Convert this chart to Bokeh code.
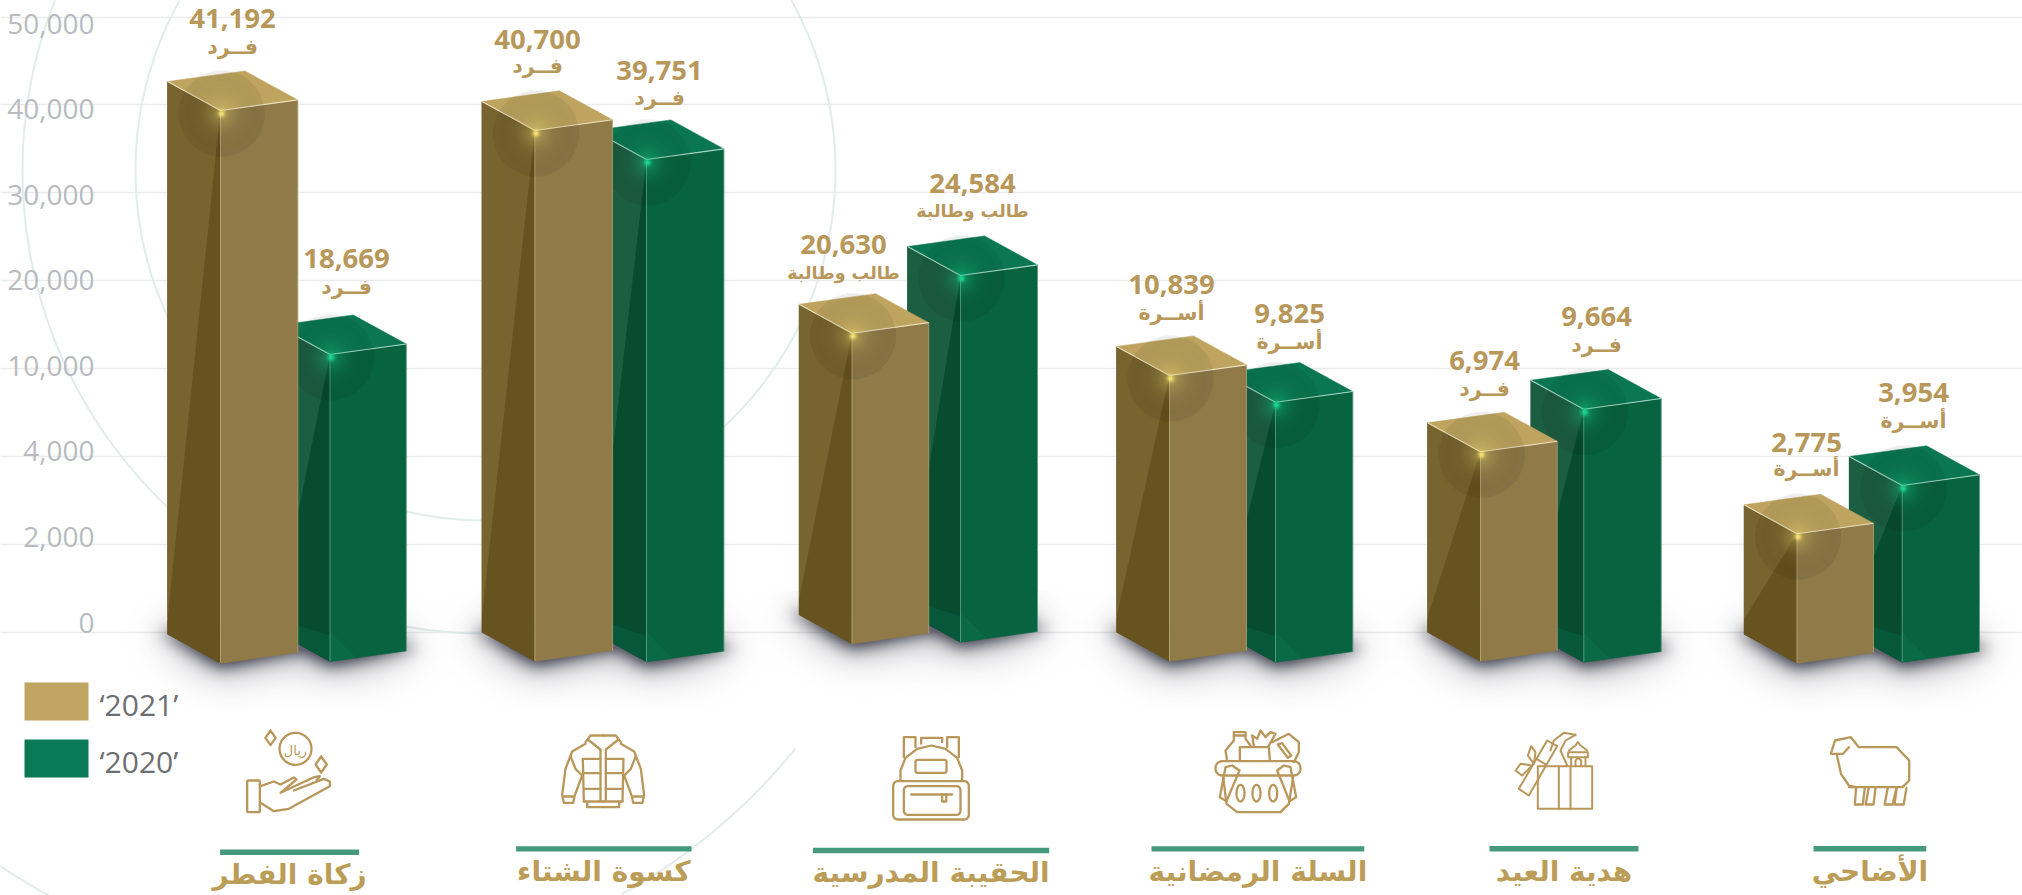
import numpy as np
from bokeh.plotting import figure
from bokeh.models import Range1d, LinearAxis, FixedTicker, Grid, ColumnDataSource
from bokeh.core.properties import value
from bokeh.embed import file_html
from bokeh.resources import INLINE

# ---------- data ----------
categories = ["زكاة الفطر", "كسوة الشتاء", "الحقيبة المدرسية", "السلة الرمضانية", "هدية العيد", "الأضاحي"]
values_2021 = [41192, 40700, 20630, 10839, 6974, 2775]
values_2020 = [18669, 39751, 24584, 9825, 9664, 3954]
units_2021 = ["فــرد", "فــرد", "طالب وطالبة", "أســرة", "فــرد", "أســرة"]
units_2020 = ["فــرد", "فــرد", "طالب وطالبة", "أســرة", "فــرد", "أســرة"]
tick_labels = ["0", "2,000", "4,000", "10,000", "20,000", "30,000", "40,000", "50,000"]
legend_labels = ["‘2021’", "‘2020’"]
# the boxes are pictorial: where each box's front corner stands against the printed axis (tick steps)
top_2021 = [5.936, 5.709, 3.401, 2.920, 2.051, 1.118]
top_2020 = [3.159, 5.378, 4.058, 2.616, 2.536, 1.668]
base_2021 = [-0.355, -0.332, -0.134, -0.332, -0.332, -0.355]
base_2020 = [-0.336, -0.339, -0.116, -0.344, -0.344, -0.344]

# ---------- layout ----------
W, H = 2022, 895
X0, Y0 = 0, 0
U = 87.85          # px per axis step
Z = 631.5          # page y of the zero line
def P(y):          # page y -> axis step
    return (Z - np.asarray(y, dtype=float)) / U

p = figure(width=W, height=H, output_backend="svg", toolbar_location=None,
           x_range=Range1d(X0, X0 + W), y_range=Range1d(float(P(Y0 + H)), float(P(Y0))),
           x_axis_location=None, y_axis_location=None, min_border=0, outline_line_color=None,
           background_fill_color="white", border_fill_color="white")
p.xgrid.visible = False
p.ygrid.visible = False

# grid lines on the true scale
grid = Grid(dimension=1, ticker=FixedTicker(ticks=list(range(8))), grid_line_color="#e9ebec",
            grid_line_width=1.6, bounds=(117, 2012))
p.add_layout(grid)

# printed tick labels sit on a slightly tighter spacing than the grid lines
LAB0, LABU = 622.0, 85.57
p.extra_y_ranges = {"labels": Range1d((LAB0 - (Y0 + H)) / LABU, (LAB0 - Y0) / LABU)}
ax = LinearAxis(y_range_name="labels", ticker=FixedTicker(ticks=list(range(8))),
                major_label_overrides={i: t for i, t in enumerate(tick_labels)},
                fixed_location=117, axis_line_color=None, major_tick_line_color=None,
                minor_tick_line_color=None, major_label_standoff=17,
                major_label_text_font="Open Sans", major_label_text_font_size="28px",
                major_label_text_color="#b9bbbf")
p.add_layout(ax, "left")

# background rings
def ring(cx, cy, r, a0, a1):
    a = np.radians(np.linspace(a0, a1, 240))
    return list(cx + r * np.cos(a)), list(P(cy + r * np.sin(a)))
rings = [ring(485, 170, 350, 0, 360), ring(485, 170, 463, 88, 240),
         ring(333.5, 374, 594, 39, 61), ring(333.5, 374, 594, 118, 126)]
p.multi_line([r[0] for r in rings], [r[1] for r in rings], line_color="#e2ecea", line_width=2)

# boxes' horizontal placing
front_2021 = [220, 534.4, 851.5, 1169, 1480, 1796.5]
right_2021 = [297.3, 612, 928.2, 1246, 1556.7, 1873]
front_2020 = [329.5, 646, 960, 1275, 1583.3, 1901.7]
right_2020 = [405.8, 723.4, 1037, 1352.3, 1660.7, 1979]
DX, DY = 53.0, 29.0 / U
SL = 10.6 / 77.0 / U

# soft floor shadow
sx0, sx1, sy0, sy1 = 90, 2022, 590, 710
gx, gy = np.meshgrid(np.arange(sx0, sx1) + .5, np.arange(sy1, sy0, -1) - .5)
mask = np.zeros(gx.shape)
def fill_poly(m, pts):
    inside = np.ones(m.shape, bool)
    n = len(pts)
    for i in range(n):
        (a, b), (c, d) = pts[i], pts[(i + 1) % n]
        inside &= (c - a) * (gy - b) - (d - b) * (gx - a) >= 0
    m[inside] = 1
for f, r, b in list(zip(front_2021, right_2021, base_2021)) + list(zip(front_2020, right_2020, base_2020)):
    yb = Z - b * U
    wd = r - f
    fill_poly(mask, [(f - DX - 10, yb - 29 - 2), (f + wd - DX, yb - 29 - 10), (r + 12, yb - 10.6 - 2), (f, yb + 6)])
def blur(m, s):
    n = int(3 * s)
    k = np.exp(-.5 * (np.arange(-n, n + 1) / s) ** 2)
    k /= k.sum()
    o = np.pad(m, n)
    o = np.apply_along_axis(lambda c: np.convolve(c, k, "same"), 0, o)
    o = np.apply_along_axis(lambda c: np.convolve(c, k, "same"), 1, o)
    return o[n:-n, n:-n]
alpha = np.clip(.8 * blur(mask, 8) + .6 * blur(mask, 22), 0, .85)
shadow = np.zeros(gx.shape + (4,), dtype=np.uint8)
shadow[..., 0], shadow[..., 1], shadow[..., 2] = 70, 70, 85
shadow[..., 3] = (alpha * 255).astype(np.uint8)
p.image_rgba(image=[shadow.view(np.uint32)[..., 0]], x=sx0, y=float(P(sy1)), dw=sx1 - sx0, dh=(sy1 - sy0) / U)

def glow_image(rgb, gain):
    R = 44
    g = np.arange(-R, R) + .5
    xx, yy = np.meshgrid(g, g)
    rr = np.hypot(xx, yy)
    gl = np.clip(gain * (.75 * np.exp(-(rr / 3.5) ** 2) + .30 * np.exp(-(rr / 15) ** 2)), 0, 1)
    disc = np.where(rr < 43, .07, 0.0)
    a = gl + disc * (1 - gl)
    out = np.zeros(rr.shape + (4,), dtype=np.uint8)
    for c in range(3):
        out[..., c] = np.clip(rgb[c] * gl / np.maximum(a, 1e-3), 0, 255)
    out[..., 3] = np.clip(a * 255, 0, 255)
    return out.view(np.uint32)[..., 0], 2 * R

GOLD = dict(top="#bea45f", front="#8f7a48", left="#66531f", wedge="#78642f", low="#8f7a48", lowl="#66531f",
            edge="#f3ead0", vert="#c9bb92", glow=(255, 236, 120), gain=.9)
GREEN = dict(top="#0a7752", front="#086340", left="#074c2f", wedge="#1c5e42", low="#0a6a45", lowl="#07583a",
             edge="#c4e8da", vert="#7fbca4", glow=(28, 214, 145), gain=1.0)

def box(f, r, t, b, st):
    l = f - DX
    w = r - f
    p.patches([[l, f, f, l]], [[t + DY, t, b, b + DY]], fill_color=st["left"], line_color=st["left"], line_width=.5)
    p.patches([[l, f, l]], [[t + DY, t, b + DY + 15 / U]], fill_color=st["wedge"], line_color=None)
    p.patches([[l, f, f, l]], [[b + DY + 14 / U, b + 26 / U, b, b + DY]], fill_color=st["lowl"], line_color=None)
    p.patches([[f, r, r, f]], [[t, t + w * SL, b + w * SL, b]], fill_color=st["front"], line_color=st["front"], line_width=.5)
    p.patches([[f, f + 26, f]], [[b + 30 / U, b + 3.4 / U, b]], fill_color=st["low"], line_color=None)
    p.patches([[l, f, r, l + w]], [[t + DY, t, t + w * SL, t + DY + w * SL]], fill_color=st["top"], line_color=st["top"], line_width=.5)
    p.multi_line([[l, f, r], [f, f], [r, r]], [[t + DY, t, t + w * SL], [t, b], [t + w * SL, b + w * SL]],
                 line_color=[st["edge"], st["vert"], st["vert"]], line_width=[1.1, 1, .8], line_alpha=[.85, .6, .6])
    img, size = glow_image(st["glow"], st["gain"])
    p.image_rgba(image=[img], x=f - size / 2 + 1, y=t - (3 + size / 2) / U, dw=size, dh=size / U)

for i in range(6):
    box(front_2020[i], right_2020[i], top_2020[i], base_2020[i], GREEN)
    box(front_2021[i], right_2021[i], top_2021[i], base_2021[i], GOLD)

# value and unit labels
TXT = "#b8975a"
num_x_2021 = [232, 537, 843, 1171, 1484, 1806]
num_y_2021 = [28, 49, 254, 294, 370, 451.7]
unit_y_2021 = [54, 73.3, 280, 320, 396, 476.7]
num_x_2020 = [346, 659, 972, 1289, 1596, 1913]
num_y_2020 = [268.3, 80, 193, 323, 326, 401.7]
unit_y_2020 = [294, 105, 218, 349, 352, 428]
src_n = ColumnDataSource(dict(x=num_x_2021 + num_x_2020, y=list(P(num_y_2021 + num_y_2020)),
                              t=[f"{v:,}" for v in values_2021 + values_2020]))
p.text("x", "y", text="t", source=src_n, text_font=value("Open Sans"), text_font_style="bold", y_offset=-10,
       text_font_size=value("27.5px"), text_color=TXT, text_align="center", text_baseline="alphabetic")
units = units_2021 + units_2020
src_u = ColumnDataSource(dict(x=num_x_2021 + num_x_2020, y=list(P(unit_y_2021 + unit_y_2020)), t=units,
                              fs=["17.5px" if " " in u else "20.5px" for u in units]))
p.text("x", "y", text="t", source=src_u, text_font=value("DejaVu Sans"), text_font_style="bold", text_font_size="fs",
       y_offset=-8, text_color=TXT, text_align="center", text_baseline="alphabetic")

# legend
swatch_x0, swatch_x1 = 24, 88
p.quad(left=[swatch_x0] * 2, right=[swatch_x1] * 2, bottom=list(P([720, 777])), top=list(P([682, 739])),
       fill_color=["#bfa561", "#0a7a56"], line_color=None)
p.text([99, 99], list(P([714, 771])), text=legend_labels, text_font=value("Open Sans"), text_font_size=value("30px"),
       y_offset=-10, text_color="#6d6e71", text_baseline="alphabetic")

# category rules and names
rule_l = [219.6, 515.6, 812.5, 1151, 1489, 1813]
rule_r = [358.5, 691, 1048.7, 1363.8, 1638, 1925.8]
rule_t = [849, 845.7, 847.3, 845.7, 845.5, 845.5]
name_y = [885, 882, 883, 881.7, 881.7, 881.7]
p.quad(left=rule_l, right=rule_r, top=list(P(rule_t)), bottom=list(P(np.array(rule_t) + 5.4)), fill_color="#459a7e", line_color=None)
p.text([(a + b) / 2 for a, b in zip(rule_l, rule_r)], list(P(name_y)), text=categories, text_font=value("DejaVu Sans"),
       text_font_style="bold", text_font_size=value("28px"), y_offset=-11, text_color="#bb9d58", text_align="center",
       text_baseline="alphabetic")

# line icons
def ellipse(cx, cy, rx, ry):
    a = np.linspace(0, 2 * np.pi, 40)
    return list(zip(cx + rx * np.cos(a), cy + ry * np.sin(a)))
def rrect(x0, y0, x1, y1, r):
    a = np.linspace(0, np.pi / 2, 6)
    pts = []
    for cx, cy, s in [(x1 - r, y0 + r, -np.pi / 2), (x1 - r, y1 - r, 0), (x0 + r, y1 - r, np.pi / 2), (x0 + r, y0 + r, np.pi)]:
        pts += list(zip(cx + r * np.cos(a + s), cy + r * np.sin(a + s)))
    return pts + [pts[0]]
def icon(paths, ox, oy, sx=1 / 3, sy=1 / 3, width=2.3):
    p.multi_line([[ox + a * sx for a, _ in q] for q in paths], [list(P([oy + b * sy for _, b in q])) for q in paths],
                 line_color="#b9975b", line_width=width, line_join="round", line_cap="round")
def spark(cx, cy, r):
    return [(cx, cy - r), (cx + r * .7, cy), (cx, cy + r), (cx - r * .7, cy), (cx, cy - r)]

# hand and coin
icon([ellipse(195, 100, 48, 48), spark(120, 67, 22), spark(272, 147, 24), rrect(50, 195, 88, 290, 3),
      [(90, 212), (130, 198), (150, 207), (190, 186), (198, 192), (150, 232), (250, 185), (268, 182), (258, 196)],
      [(190, 225), (280, 190), (298, 198), (298, 212), (175, 280), (130, 287), (90, 262)]], 230, 715)
p.text([295], [float(P(754))], text=["ريال"], text_font=value("DejaVu Sans"), text_font_size=value("13px"), y_offset=-4,
       text_color="#b9975b", text_align="center", text_baseline="alphabetic")
# jacket
half = [[(105, 55), (65, 78), (45, 130), (35, 208), (40, 232), (68, 232), (72, 212), (95, 150)], [(97, 100), (100, 228)],
        [(105, 50), (120, 30), (158, 30)], [(112, 42), (150, 72)], [(100, 100), (150, 100)], [(100, 143), (150, 143)],
        [(100, 190), (150, 190)], [(150, 75), (150, 226)], [(40, 213), (68, 213)], [(100, 228), (158, 228)],
        [(110, 232), (110, 245), (158, 245)], [(60, 92), (75, 130), (95, 150)]]
mirror = [[(316 - a, b) for a, b in q] for q in half]
icon(half + mirror, 550, 725)
# backpack
icon([[(122, 55), (122, 37), (185, 37), (185, 50)], [(70, 95), (70, 35), (105, 35), (105, 65)],
      [(200, 65), (200, 35), (235, 35), (235, 95)],
      [(60, 165), (60, 135), (75, 97), (110, 70), (153, 60), (195, 70), (230, 97), (245, 135), (245, 165)],
      rrect(38, 167, 265, 282, 14), rrect(70, 182, 240, 268, 12), rrect(105, 103, 198, 142, 6),
      [(92, 207), (215, 207)], [(185, 207), (185, 228), (197, 228), (197, 207)]], 880, 725)
# basket
icon([[(80, 120), (75, 90), (100, 60), (100, 35), (135, 35), (135, 55), (150, 75)],
      [(100, 45), (135, 45)], [(118, 120), (118, 80), (205, 80), (208, 118)],
      [(160, 75), (155, 45), (170, 55), (180, 30), (195, 50), (210, 35), (225, 40), (205, 75)],
      [(215, 65), (265, 40), (295, 65), (295, 95), (280, 125)],
      [(232, 72), (245, 68), (272, 105), (262, 112), (232, 72)], rrect(45, 122, 300, 165, 20),
      [(75, 140), (58, 230), (78, 242), (117, 150), (95, 135), (75, 140)],
      [(270, 140), (287, 230), (267, 242), (230, 150), (250, 135), (270, 140)],
      [(68, 170), (78, 250), (110, 275), (240, 275), (265, 250), (278, 170)],
      ellipse(120, 218, 12, 25), ellipse(168, 218, 12, 25), ellipse(218, 218, 12, 25)], 1200, 720)
# gift, crescent and minaret
icon([[(112, 122), (275, 122), (275, 250), (112, 250), (112, 122)], [(175, 122), (175, 250)], [(210, 122), (210, 250)],
      [(140, 45), (170, 62), (85, 210), (55, 190), (140, 45)], [(108, 100), (138, 118)],
      [(100, 115), (82, 90), (92, 62), (105, 80), (100, 115)], [(95, 120), (60, 115), (45, 135), (65, 150), (95, 120)],
      [(225, 28), (190, 22), (160, 45), (150, 75)], [(225, 28), (195, 45), (180, 75), (200, 120)],
      [(205, 75), (225, 60), (232, 50), (240, 60), (260, 75)], [(203, 80), (262, 80), (262, 95), (203, 95), (203, 80)],
      [(212, 95), (212, 122)], [(255, 95), (255, 122)], [(225, 122), (225, 105), (233, 97), (242, 105), (242, 122)]],
     1500, 725, width=2)
# sheep
icon([[(1085, 458), (1095, 420), (1135, 410), (1155, 440), (1250, 440), (1282, 480), (1282, 540), (1265, 560), (1130, 560)],
      [(1100, 465), (1110, 520), (1130, 555), (1148, 560)], [(1085, 460), (1115, 460), (1130, 440)],
      [(1148, 562), (1145, 612), (1165, 612), (1170, 562)], [(1180, 562), (1172, 612), (1192, 612), (1197, 562)],
      [(1228, 562), (1220, 612), (1240, 612), (1250, 562)], [(1250, 565), (1245, 612), (1268, 612), (1275, 562)]],
     1400, 600, sx=1 / 2.52, sy=1 / 3)

open("out.html", "w").write(file_html(p, INLINE))
